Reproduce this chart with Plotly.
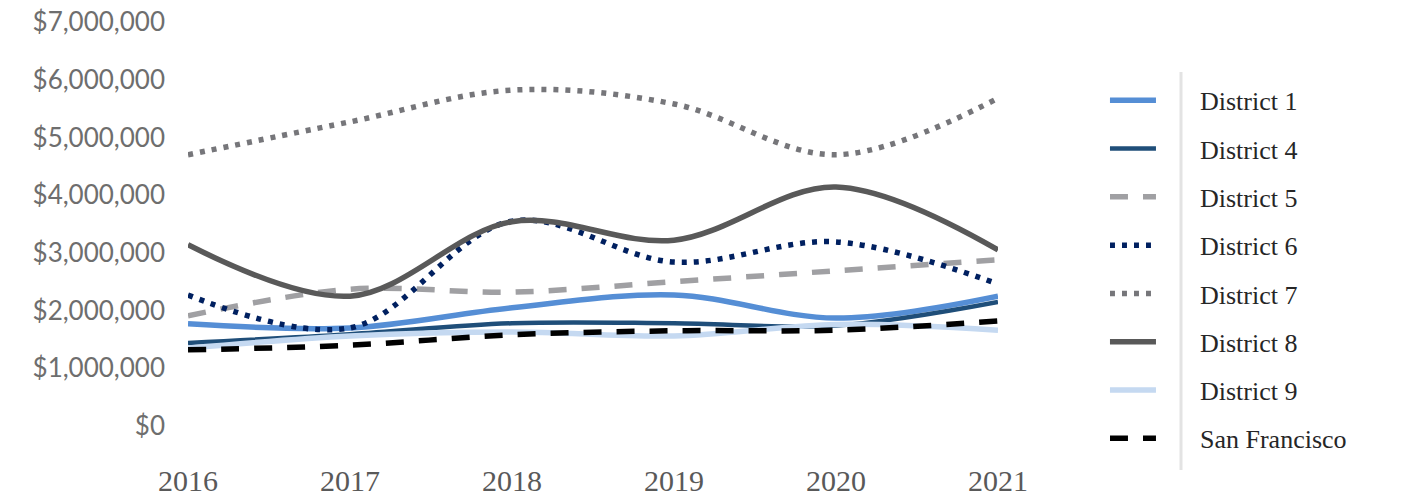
import plotly.graph_objects as go

years = [2016, 2017, 2018, 2019, 2020, 2021]
district_1 = [1770000, 1700000, 2050000, 2270000, 1870000, 2250000]
district_4 = [1440000, 1590000, 1780000, 1780000, 1740000, 2150000]
district_5 = [1910000, 2370000, 2320000, 2500000, 2690000, 2880000]
district_6 = [2270000, 1700000, 3550000, 2840000, 3190000, 2460000]
district_7 = [4700000, 5270000, 5820000, 5580000, 4700000, 5680000]
district_8 = [3140000, 2250000, 3540000, 3220000, 4140000, 3050000]
district_9 = [1350000, 1560000, 1630000, 1560000, 1760000, 1660000]
san_francisco = [1320000, 1400000, 1580000, 1650000, 1660000, 1820000]

y_ticks = [0, 1000000, 2000000, 3000000, 4000000, 5000000, 6000000, 7000000]
y_tick_text = ["$0", "$1,000,000", "$2,000,000", "$3,000,000", "$4,000,000",
               "$5,000,000", "$6,000,000", "$7,000,000"]

series = [
    ("District 1", district_1, "#558ED5", 5.5, "solid"),
    ("District 4", district_4, "#1F4E79", 4.5, "solid"),
    ("District 5", district_5, "#A0A0A3", 5.5, "18px,15px"),
    ("District 6", district_6, "#002060", 5.5, "5px,7px"),
    ("District 7", district_7, "#76767A", 5.5, "5px,7px"),
    ("District 8", district_8, "#595959", 5.5, "solid"),
    ("District 9", district_9, "#C5D9F1", 5.5, "solid"),
    ("San Francisco", san_francisco, "#000000", 5.5, "18px,15px"),
]

NB = "\u00a0" * 6
fig = go.Figure()
for name, vals, color, w, dash in series:
    fig.add_trace(go.Scatter(
        x=years, y=vals, name=NB + name, mode="lines", legendgroup=name,
        line=dict(color=color, width=w, dash=dash, shape="spline", smoothing=1.0),
    ))

fig.update_layout(
    width=1401, height=499,
    margin=dict(l=188, r=403, t=22, b=73, autoexpand=False),
    paper_bgcolor="white", plot_bgcolor="white",
    showlegend=True,
    legend=dict(
        xref="container", yref="container", x=0.7887, y=0.846,
        xanchor="left", yanchor="top", maxheight=490,
        font=dict(family="Liberation Serif", size=26, color="#262626"),
        itemwidth=46, tracegroupgap=11.5, bgcolor="rgba(0,0,0,0)",
    ),
    xaxis=dict(
        range=[2016, 2021], tickvals=years, ticktext=[str(y) for y in years],
        showgrid=False, zeroline=False, showline=False, ticks="",
        tickfont=dict(family="Liberation Serif", size=30, color="#595959"),
        ticklabelstandoff=34,
    ),
    yaxis=dict(
        range=[0, 7000000], tickvals=y_ticks, ticktext=y_tick_text,
        showgrid=False, zeroline=False, showline=False, ticks="",
        tickfont=dict(family="Lato", size=26, color="#6E6E6E"),
        ticklabelstandoff=22,
    ),
    shapes=[dict(type="line", xref="paper", yref="paper",
                 x0=(1181 - 188) / 810, x1=(1181 - 188) / 810,
                 y0=(426 - 72) / 404, y1=(426 - 470) / 404,
                 line=dict(color="#E3E3E3", width=3))],
)

fig.write_html("out.html", config={"displayModeBar": False},
               post_script="document.body.style.margin='0';")
